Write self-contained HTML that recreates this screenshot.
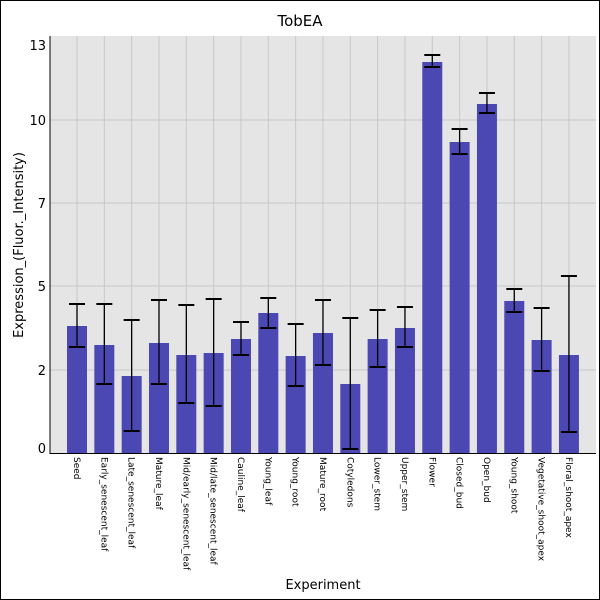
<!DOCTYPE html>
<html><head><style>body{margin:0;background:#fff}svg{display:block}</style></head><body>
<svg width="600" height="600" xmlns="http://www.w3.org/2000/svg" font-family="DejaVu Sans, Liberation Sans, sans-serif">
<rect x="0.5" y="0.5" width="599" height="599" fill="#fff" stroke="#000"/>
<text x="300" y="26" font-size="15" text-anchor="middle">TobEA</text>
<rect x="50" y="36" width="546" height="417" fill="#e5e5e5"/>
<g stroke="#c8c8c8" stroke-width="1">
<line x1="50" x2="596" y1="120" y2="120"/><line x1="50" x2="596" y1="203" y2="203"/>
<line x1="50" x2="596" y1="286" y2="286"/><line x1="50" x2="596" y1="370" y2="370"/>
</g>
<g id="bars"></g>
<line x1="50" y1="36" x2="50" y2="454" stroke="#000"/>
<line x1="50" y1="453.5" x2="596" y2="453.5" stroke="#000"/>
<g font-size="13" text-anchor="end">
<text x="46" y="50">13</text><text x="46" y="125">10</text><text x="46" y="208">7</text>
<text x="46" y="291">5</text><text x="46" y="375">2</text><text x="46" y="453">0</text>
</g>
<text transform="translate(23,245) rotate(-90)" font-size="13" text-anchor="middle">Expression_(Fluor._Intensity)</text>
<text x="323" y="589" font-size="13" text-anchor="middle">Experiment</text>
<g id="labels" font-size="9"></g>
<script>
var d=[["Seed",326,304,347],["Early_senescent_leaf",345,304,384],["Late_senescent_leaf",376,320,431],["Mature_leaf",343,300,384],["Mid/early_senescent_leaf",355,305,403],["Mid/late_senescent_leaf",353,299,406],["Cauline_leaf",339,322,355],["Young_leaf",313,298,328],["Young_root",356,324,386],["Mature_root",333,300,365],["Cotyledons",384,318,449],["Lower_stem",339,310,367],["Upper_stem",328,307,347],["Flower",62,55,67],["Closed_bud",142,129,154],["Open_bud",104,93,113],["Young_shoot",301,289,312],["Vegetative_shoot_apex",340,308,371],["Floral_shoot_apex",355,276,432]];
var ns="http://www.w3.org/2000/svg",b=document.getElementById("bars"),l=document.getElementById("labels");
function el(t,a,p){var e=document.createElementNS(ns,t);for(var k in a)e.setAttribute(k,a[k]);p.appendChild(e);return e;}
d.forEach(function(r,i){var c=77+i*27.33;
el("line",{x1:c,x2:c,y1:36,y2:453,stroke:"#c8c8c8"},b);
el("rect",{x:c-10,y:r[1],width:20,height:453-r[1],fill:"#4b47b3"},b);
el("line",{x1:c,x2:c,y1:r[2],y2:r[3],stroke:"#000","stroke-width":1.3},b);
el("line",{x1:c-8,x2:c+8,y1:r[2],y2:r[2],stroke:"#000","stroke-width":2},b);
el("line",{x1:c-8,x2:c+8,y1:r[3],y2:r[3],stroke:"#000","stroke-width":2},b);
var t=el("text",{transform:"translate("+(c-3)+",457) rotate(90)"},l);t.textContent=r[0];});
</script>
</svg>
</body></html>
